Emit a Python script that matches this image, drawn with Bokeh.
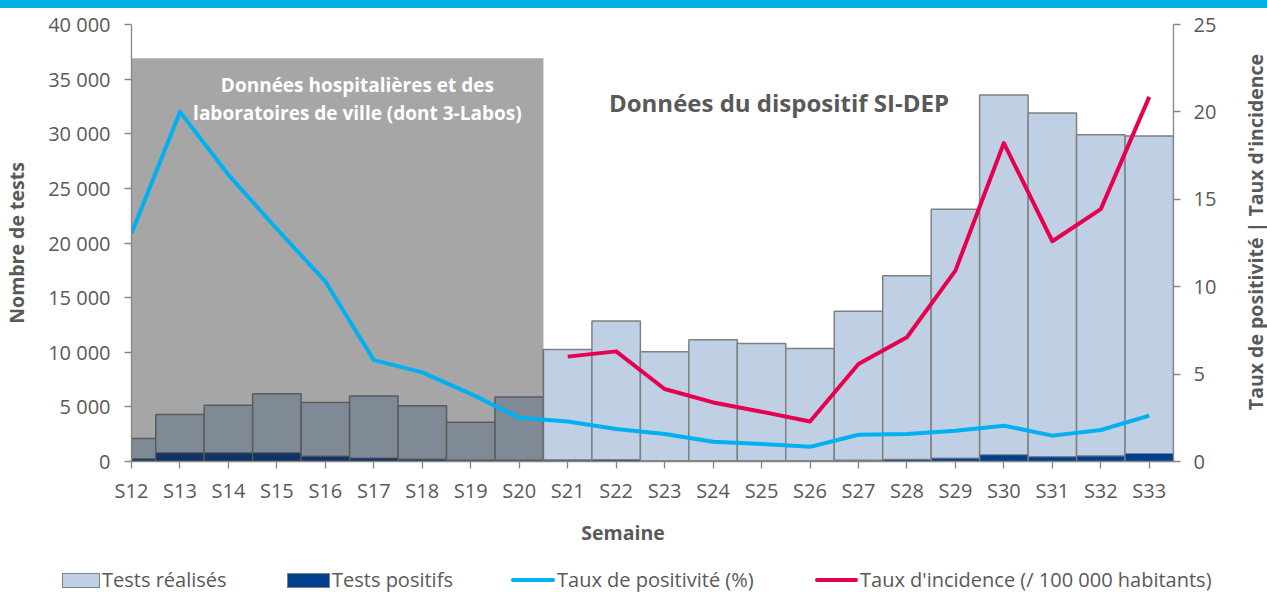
import math
from bokeh.plotting import figure
from bokeh.models import (Range1d, LinearAxis, FixedTicker, Label, Div, ColumnDataSource)
from bokeh.layouts import column, row
from bokeh.embed import file_html
from bokeh.resources import INLINE

# ---------------- data ----------------
weeks = ["S12", "S13", "S14", "S15", "S16", "S17", "S18", "S19", "S20", "S21", "S22",
         "S23", "S24", "S25", "S26", "S27", "S28", "S29", "S30", "S31", "S32", "S33"]
tests_realises = [2100, 4300, 5150, 6200, 5400, 6000, 5100, 3600, 5900, 10250, 12850,
                  10050, 11150, 10800, 10350, 13750, 17000, 23100, 33550, 31900, 29900, 29800]
tests_positifs = [250, 820, 800, 800, 500, 320, 220, 130, 130, 150, 170,
                  90, 80, 70, 80, 120, 190, 310, 620, 440, 520, 730]
taux_positivite = [13.05, 20.0, 16.4, 13.3, 10.3, 5.8, 5.1, 3.87, 2.5, 2.29, 1.86,
                   1.57, 1.13, 1.0, 0.84, 1.53, 1.57, 1.76, 2.05, 1.48, 1.8, 2.62]
incidence_weeks = ["S21", "S22", "S23", "S24", "S25", "S26", "S27", "S28", "S29",
                   "S30", "S31", "S32", "S33"]
taux_incidence = [6.0, 6.3, 4.15, 3.38, 2.85, 2.29, 5.58, 7.11, 10.92, 18.22, 12.6, 14.44, 20.86]

y_ticks = [0, 5000, 10000, 15000, 20000, 25000, 30000, 35000, 40000]
y_tick_labels = ["0", "5 000", "10 000", "15 000", "20 000", "25 000", "30 000", "35 000", "40 000"]
y2_ticks = [0, 5, 10, 15, 20, 25]
legend_labels = ["Tests réalisés", "Tests positifs", "Taux de positivité (%)",
                 "Taux d'incidence (/ 100 000 habitants)"]
x_title = "Semaine"
y_title = "Nombre de tests"
y2_title = "Taux de positivité | Taux d'incidence"

# ---------------- styles ----------------
FONT = "Open Sans"
TXT = "#595959"
AXC = "#868686"
C_TESTS, C_POS, C_TP, C_TI = "#bfcfe4", "#003f8f", "#00b0f0", "#e6004f"

xpos = list(range(len(weeks)))
x_inc = [weeks.index(w) for w in incidence_weeks]
src = ColumnDataSource(dict(x=xpos, tests=tests_realises, pos=tests_positifs, tp=taux_positivite))
src_inc = ColumnDataSource(dict(x=x_inc, ti=taux_incidence))

W, H, BAND = 1267, 592, 8
P_W, P_H = 1237, 507            # chart canvas (page x 0..1237, y 8..515)
T_W = W - P_W                  # strip holding the right-hand title
B_H = H - BAND - P_H           # strip holding "Semaine" and the legend

p = figure(width=P_W, height=P_H, x_range=Range1d(0, len(weeks) - 0.5),
           y_range=Range1d(0, 40000), output_backend="svg", toolbar_location=None,
           min_border_left=129, min_border_right=P_W - 1173, min_border_top=16,
           min_border_bottom=P_H + BAND - 461)
p.extra_y_ranges = {"taux": Range1d(0, 25)}
p.xgrid.visible = False
p.ygrid.visible = False
p.outline_line_color = None
p.background_fill_color = "white"
p.border_fill_color = "white"

def style_axis(ax):
    ax.axis_line_color = AXC
    ax.axis_line_width = 1.3
    ax.major_tick_line_color = AXC
    ax.major_tick_line_width = 1.3
    ax.major_tick_in = 0
    ax.major_tick_out = 7
    ax.minor_tick_line_color = None
    ax.major_label_text_font = FONT
    ax.major_label_text_font_size = "20px"
    ax.major_label_text_color = TXT
    ax.axis_label_text_font = FONT
    ax.axis_label_text_font_style = "bold"
    ax.axis_label_text_font_size = "19.5px"
    ax.axis_label_text_color = TXT

xa = p.xaxis[0]
style_axis(xa)
xa.ticker = FixedTicker(ticks=xpos)
xa.major_label_overrides = {i: w for i, w in zip(xpos, weeks)}
xa.major_label_standoff = 8

ya = p.yaxis[0]
style_axis(ya)
ya.ticker = FixedTicker(ticks=y_ticks)
ya.major_label_overrides = {t: l for t, l in zip(y_ticks, y_tick_labels)}
ya.major_label_standoff = 14
ya.axis_label = y_title
ya.axis_label_standoff = 15

ya2 = LinearAxis(y_range_name="taux", ticker=FixedTicker(ticks=y2_ticks))
style_axis(ya2)
ya2.major_label_standoff = 13
p.add_layout(ya2, "right")

# ---------------- glyphs ----------------
p.vbar(x="x", top="tests", width=1, bottom=0, source=src,
       fill_color=C_TESTS, line_color="#808080", line_width=1.5)
p.vbar(x="x", top="pos", width=1, bottom=0, source=src,
       fill_color=C_POS, line_color="#808080", line_width=1.2)
# grey panel marking the hospital / city-lab period
p.quad(left=-0.5, right=8.5, bottom=0, top=36900, fill_color="#282828",
       fill_alpha=0.41, line_color=None)
p.line("x", "tp", source=src, y_range_name="taux", line_color=C_TP,
       line_width=4, line_join="round")
p.line("x", "ti", source=src_inc, y_range_name="taux", line_color=C_TI,
       line_width=4, line_join="round")

# ---------------- texts in the chart ----------------
def lab(x, y, text, size, color=TXT):
    p.add_layout(Label(x=x, y=y, text=text, text_align="center",
                       text_baseline="middle", text_font=FONT, text_font_style="bold",
                       text_font_size=size, text_color=color))

lab(4.66, 34450, "Données hospitalières et des", "19px", color="white")
lab(4.66, 31880, "laboratoires de ville (dont 3-Labos)", "19px", color="white")
lab(13.36, 32890, "Données du dispositif SI-DEP", "24px")

# ---------------- right-hand title strip (reads bottom to top) ----------------
title_html = (f'<div style="position:relative;width:{T_W}px;height:{P_H}px;">'
              f'<div style="position:absolute;left:{1256 - P_W}px;top:{231.5 - BAND}px;'
              f'transform:translate(-50%,-50%) rotate(-90deg);white-space:nowrap;'
              f'font-family:\'{FONT}\';font-weight:bold;font-size:19.5px;line-height:24px;'
              f'color:{TXT};">{y2_title}</div></div>')
title_div = Div(text=title_html, width=T_W, height=P_H, margin=0)

# ---------------- bottom strip: x title + legend (HTML) ----------------
top0 = P_H + BAND
keys = [
    (62, 38, 15, f"background:{C_TESTS};border:1.5px solid #808080;"),
    (287, 43, 15, f"background:{C_POS};border:1.5px solid #808080;"),
    (511, 44, 4, f"background:{C_TP};border-radius:2px;"),
    (815, 43, 4, f"background:{C_TI};border-radius:2px;"),
]
leg_cy = 580 - top0
parts = [f'<div style="position:absolute;left:623px;top:{533 - top0}px;'
         f'transform:translate(-50%,-50%);white-space:nowrap;font-family:\'{FONT}\';'
         f'font-weight:bold;font-size:19.5px;line-height:24px;color:{TXT};">{x_title}</div>']
for (left, w, h, css), text in zip(keys, legend_labels):
    parts.append(f'<div style="position:absolute;left:{left}px;top:{leg_cy - h / 2}px;'
                 f'width:{w}px;height:{h}px;box-sizing:border-box;{css}"></div>')
    parts.append(f'<span style="position:absolute;left:{left + w + 2}px;top:{leg_cy - 13}px;'
                 f'line-height:26px;white-space:nowrap;font-family:\'{FONT}\';'
                 f'font-size:20px;color:{TXT};">{text}</span>')
bottom_html = (f'<div style="position:relative;width:{W}px;height:{B_H}px;">'
               + "".join(parts) + "</div>")
bottom_div = Div(text=bottom_html, width=W, height=B_H, margin=0)

band = Div(text="", width=W, height=BAND, margin=0, styles={"background-color": "#00b0e6"})
layout = column(band, row(p, title_div, spacing=0), bottom_div, spacing=0)

open("out.html", "w").write(file_html(layout, INLINE))
